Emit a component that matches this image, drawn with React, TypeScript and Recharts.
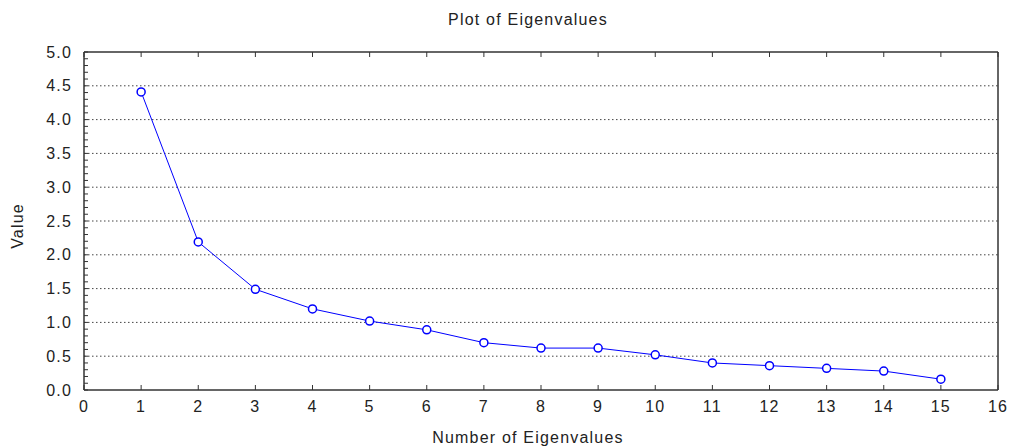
import React from "react";
import {
  LineChart,
  Line,
  XAxis,
  YAxis,
  CartesianGrid,
  Label,
} from "recharts";

const eigenNumbers = [1, 2, 3, 4, 5, 6, 7, 8, 9, 10, 11, 12, 13, 14, 15];
const eigenValues = [4.41, 2.19, 1.49, 1.2, 1.02, 0.89, 0.7, 0.62, 0.62, 0.52, 0.4, 0.36, 0.32, 0.28, 0.16];

const xTicks = [0, 1, 2, 3, 4, 5, 6, 7, 8, 9, 10, 11, 12, 13, 14, 15, 16];
const yMajorTicks = [0, 0.5, 1, 1.5, 2, 2.5, 3, 3.5, 4, 4.5, 5];
const yMinorTicks = Array.from({ length: 51 }, (_, i) => i / 10);
const gridValues = [0.5, 1, 1.5, 2, 2.5, 3, 3.5, 4, 4.5];

const data = eigenNumbers.map((n, i) => ({ n, value: eigenValues[i] }));

const FONT = "'Liberation Sans', Arial, sans-serif";
const TEXT = "#222";
const FRAME = "#333";

function isMajor(v: number) {
  return yMajorTicks.some((t) => Math.abs(t - v) < 1e-6);
}

function YTick({ x, y, payload }: any) {
  if (!isMajor(payload.value)) return <g />;
  return (
    <text x={x} y={y} dy="0.35em" textAnchor="end" fontSize={16} fill={TEXT} fontFamily={FONT} letterSpacing={1.2}>
      {payload.value.toFixed(1)}
    </text>
  );
}

function XTick({ x, y, payload }: any) {
  return (
    <text x={x} y={y} dy="0.75em" textAnchor="middle" fontSize={16} fill={TEXT} fontFamily={FONT} letterSpacing={1.2}>
      {payload.value}
    </text>
  );
}

const Empty = () => <g />;

export default function App() {
  return (
    <div style={{ position: "absolute", left: 0, top: 0, width: 1014, height: 448, background: "#fff" }}>
      <div
        style={{
          position: "absolute",
          top: 11,
          left: 0,
          width: 1056,
          textAlign: "center",
          fontFamily: FONT,
          fontSize: 16,
          letterSpacing: 1.2,
          color: TEXT,
        }}
      >
        Plot of Eigenvalues
      </div>
      <LineChart width={1014} height={448} data={data} margin={{ top: 51, right: 15, bottom: 28, left: 0 }}>
        <CartesianGrid
          xAxisId="bottom"
          yAxisId="left"
          vertical={false}
          horizontalValues={gridValues}
          stroke="#444"
          strokeDasharray="1.5 2.5"
        />
        <XAxis
          xAxisId="bottom"
          dataKey="n"
          type="number"
          domain={[0, 16]}
          ticks={xTicks}
          interval={0}
          height={30}
          tickSize={-5}
          tickMargin={15}
          tick={<XTick />}
          stroke={FRAME}
          axisLine={{ stroke: FRAME, strokeWidth: 1.5 }}
        >
          <Label
            value="Number of Eigenvalues"
            position="bottom"
            offset={12}
            style={{ fontFamily: FONT, fontSize: 16, fill: TEXT, letterSpacing: 1.2 }}
            dx={-13}
          />
        </XAxis>
        <XAxis
          xAxisId="top"
          orientation="top"
          dataKey="n"
          type="number"
          domain={[0, 16]}
          ticks={xTicks}
          interval={0}
          height={1}
          tickSize={-5}
          tick={<Empty />}
          stroke={FRAME}
          axisLine={{ stroke: FRAME, strokeWidth: 1.5 }}
        />
        <YAxis
          yAxisId="left"
          type="number"
          domain={[0, 5]}
          ticks={yMinorTicks}
          interval={0}
          width={84}
          tickSize={-4}
          tickMargin={16}
          tick={<YTick />}
          stroke={FRAME}
          axisLine={{ stroke: FRAME, strokeWidth: 1.5 }}
        >
          <Label
            value="Value"
            angle={-90}
            position="insideLeft"
            offset={17}
            dy={5}
            style={{ fontFamily: FONT, fontSize: 16, fill: TEXT, letterSpacing: 1.2, textAnchor: "middle" }}
          />
        </YAxis>
        <YAxis
          yAxisId="right"
          orientation="right"
          type="number"
          domain={[0, 5]}
          ticks={yMinorTicks}
          interval={0}
          width={1}
          tickSize={-4}
          tick={<Empty />}
          stroke={FRAME}
          axisLine={{ stroke: FRAME, strokeWidth: 1.5 }}
        />
        <Line
          xAxisId="bottom"
          yAxisId="left"
          type="linear"
          dataKey="value"
          stroke="#0000ff"
          strokeWidth={1}
          dot={{ r: 4, stroke: "#0000ff", strokeWidth: 1.5, fill: "#fff" }}
          isAnimationActive={false}
        />
      </LineChart>
    </div>
  );
}
